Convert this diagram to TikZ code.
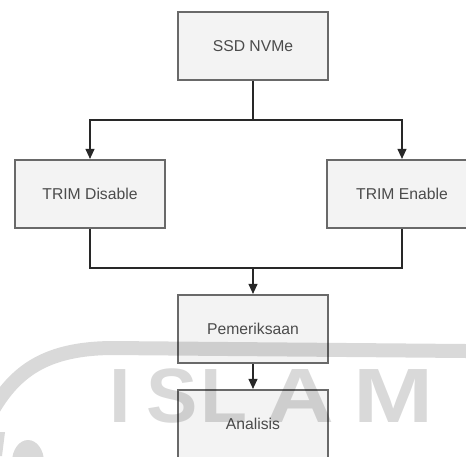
\documentclass[tikz,border=0pt]{standalone}
\usepackage{fontspec}
\setmainfont{Liberation Sans}
\usetikzlibrary{arrows.meta}
\definecolor{boxfill}{RGB}{243,243,243}
\definecolor{boxline}{RGB}{105,105,105}
\definecolor{boxtext}{RGB}{75,75,75}
\definecolor{wire}{RGB}{40,40,40}
\tikzset{
  stepbox/.style={draw=boxline, line width=2.2pt, fill=boxfill,
    minimum width=150pt, minimum height=68pt, inner sep=0pt,
    text=boxtext, font=\fontsize{15.7}{18}\selectfont},
  wireline/.style={draw=wire, line width=1.1pt},
  flow/.style={wireline, -{Triangle[width=9pt,length=10pt]}},
  emblemfill/.style={fill=black, fill opacity=0.15, draw=none},
  emblemline/.style={draw=black, draw opacity=0.15, line width=14pt},
  emblemletter/.style={text=black, text opacity=0.15, anchor=base, inner sep=0pt,
    font=\fontsize{77}{80}\selectfont\bfseries}
}
\begin{document}
\begin{tikzpicture}[x=1pt, y=-1pt]
  \useasboundingbox (0,0) rectangle (466,456);
  \clip (0,0) rectangle (466,456);

  % process boxes
  \node[stepbox] (ssd) at (253,46)  {SSD NVMe};
  \node[stepbox] (dis) at (90,194)  {TRIM Disable};
  \node[stepbox] (ena) at (402,194) {TRIM Enable};
  \node[stepbox] (pem) at (253,329) {Pemeriksaan};
  \node[stepbox] (ana) at (253,424) {Analisis};

  % branch and join points
  \coordinate (split) at (253,120);
  \coordinate (join)  at (253,268);

  % connectors
  \draw[wireline] (ssd.south) -- (split);
  \draw[flow] (split) -| (dis.north);
  \draw[flow] (split) -| (ena.north);
  \draw[wireline] (dis.south) |- (join);
  \draw[wireline] (ena.south) |- (join);
  \draw[flow] (join) -- (pem.north);
  \draw[flow] (pem.south) -- (ana.north);

  % faint background emblem
  \draw[emblemline] (-6,408) .. controls (18,368) and (50,349) .. (110,348) -- (466,351);
  \node[emblemletter] (wI) at (120,422) {I};
  \node[emblemletter] (wS) at (172,422) {S};
  \node[emblemletter] (wL) at (224,422) {L};
  \node[emblemletter, xscale=1.22] (wA) at (300,422) {A};
  \node[emblemletter, xscale=1.25] (wM) at (394,422) {M};
  \fill[emblemfill] (28,462) ellipse [x radius=16, y radius=22];
  \fill[emblemfill] (-2,432) -- (5,432) -- (2,456) -- (-2,456) -- cycle;
\end{tikzpicture}
\end{document}
